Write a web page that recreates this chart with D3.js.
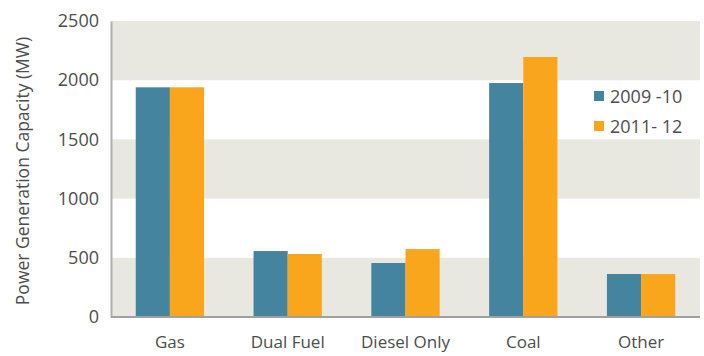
<!DOCTYPE html>
<html><head><meta charset="utf-8">
<script src="https://cdn.jsdelivr.net/npm/d3@7"></script>
<style>body{margin:0;background:#fff}svg{display:block}text{font-family:"Open Sans",sans-serif;fill:#4d4d4d}</style>
</head><body><svg id="c" width="704" height="356"></svg>
<script>
const categories = ["Gas","Dual Fuel","Diesel Only","Coal","Other"];
const seriesNames = ["2009 -10","2011- 12"];
const values2009 = [1940, 557, 456, 1976, 363];
const values2011 = [1940, 532, 574, 2196, 363];
const yTicks = [0,500,1000,1500,2000,2500];
const colors = ["#45849f","#f9a61c"];

const svg = d3.select("#c");
const L=111, R=700, T=21, B=317;
const y = d3.scaleLinear().domain([0,2500]).range([B,T]);
const x0 = d3.scaleBand().domain(categories).range([L,R]).paddingInner(0.42).paddingOuter(0.21);
const x1 = d3.scaleBand().domain(seriesNames).range([0,x0.bandwidth()]);
const series=[values2009, values2011];

for(let i=0;i<yTicks.length-1;i+=2){
  svg.append("rect").attr("x",L).attr("width",R-L)
    .attr("y",y(yTicks[i+1])).attr("height",y(yTicks[i])-y(yTicks[i+1])).attr("fill","#e8e7e0");
}
categories.forEach((c,i)=>{
  seriesNames.forEach((s,j)=>{
    svg.append("rect").attr("x",x0(c)+x1(s)).attr("width",x1.bandwidth())
      .attr("y",y(series[j][i])).attr("height",B-y(series[j][i])).attr("fill",colors[j]);
  });
});
const ya = svg.append("g").attr("transform",`translate(${L},0)`)
  .call(d3.axisLeft(y).tickValues(yTicks).tickFormat(d3.format("d")).tickSize(0).tickPadding(12));
ya.select(".domain").attr("stroke","#b0b0b0").attr("stroke-width",2);
ya.selectAll("text").style("font-size","18px").style("fill","#4d4d4d").style("font-family","Open Sans");
const xa = svg.append("g").attr("transform",`translate(0,${B})`).call(d3.axisBottom(x0).tickSize(0).tickPadding(19));
xa.select(".domain").attr("stroke","#a0a0a0").attr("stroke-width",2).attr("d",`M${L},0H${R}`);
xa.selectAll("text").style("font-size","17px").style("fill","#4d4d4d").style("font-family","Open Sans");
svg.append("text").attr("transform",`translate(29,${(T+B)/2+2}) rotate(-90)`).attr("text-anchor","middle")
  .style("font-size","17.5px").text("Power Generation Capacity (MW)");
seriesNames.forEach((s,j)=>{
  const g=svg.append("g").attr("transform",`translate(594,${91+j*30})`);
  g.append("rect").attr("width",10).attr("height",10).attr("fill",colors[j]);
  g.append("text").attr("x",16).attr("y",12).style("font-size","18px").text(s);
});
</script></body></html>
